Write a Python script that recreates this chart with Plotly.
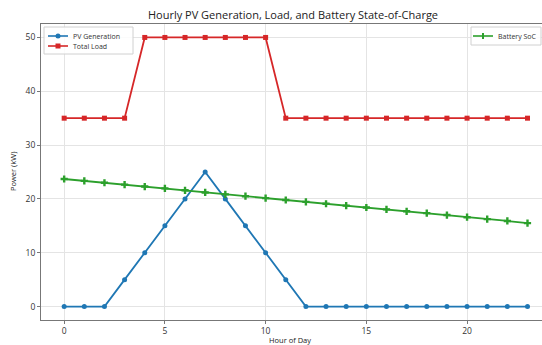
import plotly.graph_objects as go

hours = list(range(24))
pv_generation = [0, 0, 0, 5, 10, 15, 20, 25, 20, 15, 10, 5, 0, 0, 0, 0, 0, 0, 0, 0, 0, 0, 0, 0]
total_load = [35, 35, 35, 35, 50, 50, 50, 50, 50, 50, 50, 35, 35, 35, 35, 35, 35, 35, 35, 35, 35, 35, 35, 35]
battery_soc = [23.7, 23.35, 23.0, 22.65, 22.3, 21.95, 21.6, 21.2, 20.85, 20.5, 20.15, 19.8, 19.45,
               19.1, 18.75, 18.4, 18.05, 17.7, 17.35, 17.0, 16.6, 16.25, 15.9, 15.5]

FONT = "Open Sans"
W, H = 542, 345
ML, MR, MT, MB = 41, 0, 24, 25
PW, PH = W - ML - MR, H - MT - MB

BLUE, RED, GREEN = "#1f77b4", "#d62728", "#2ca02c"


def px(x):
    return (x - ML) / PW


def py(y):
    return 1 - (y - MT) / PH


fig = go.Figure()
fig.add_trace(go.Scatter(x=hours, y=pv_generation, mode="lines+markers", name="PV Generation",
                         line=dict(color=BLUE, width=1.8),
                         marker=dict(symbol="circle", size=5, color=BLUE)))
fig.add_trace(go.Scatter(x=hours, y=total_load, mode="lines+markers", name="Total Load",
                         line=dict(color=RED, width=1.8),
                         marker=dict(symbol="square", size=5, color=RED)))
fig.add_trace(go.Scatter(x=hours, y=battery_soc, mode="lines+markers", name="Battery SoC",
                         line=dict(color=GREEN, width=1.8),
                         marker=dict(symbol="cross", size=6, color=GREEN)))

axis_common = dict(showline=True, linecolor="#777", linewidth=1, mirror=True,
                   showgrid=True, gridcolor="#e4e4e4", gridwidth=1, zeroline=False,
                   ticks="outside", ticklen=3, tickcolor="#777", automargin=False,
                   tickfont=dict(family=FONT, size=8.5, color="#333"))

shapes = []
annotations = []


def legend_box(x0, y0, x1, y1):
    shapes.append(dict(type="rect", xref="paper", yref="paper", x0=px(x0), x1=px(x1),
                       y0=py(y1), y1=py(y0), line=dict(color="#d0d0d0", width=1),
                       fillcolor="rgba(255,255,255,0.85)", layer="above"))


def legend_item(xl, xr, y, color, symbol, text):
    shapes.append(dict(type="line", xref="paper", yref="paper", x0=px(xl), x1=px(xr),
                       y0=py(y), y1=py(y), line=dict(color=color, width=1.6), layer="above"))
    xm = (xl + xr) / 2
    if symbol == "circle":
        shapes.append(dict(type="circle", xref="paper", yref="paper", x0=px(xm - 2.5), x1=px(xm + 2.5),
                           y0=py(y + 2.5), y1=py(y - 2.5), fillcolor=color, line=dict(width=0),
                           layer="above"))
    elif symbol == "square":
        shapes.append(dict(type="rect", xref="paper", yref="paper", x0=px(xm - 2.5), x1=px(xm + 2.5),
                           y0=py(y + 2.5), y1=py(y - 2.5), fillcolor=color, line=dict(width=0),
                           layer="above"))
    else:
        shapes.append(dict(type="line", xref="paper", yref="paper", x0=px(xm), x1=px(xm),
                           y0=py(y + 3), y1=py(y - 3), line=dict(color=color, width=2),
                           layer="above"))
    annotations.append(dict(xref="paper", yref="paper", x=px(xr + 3), y=py(y), xanchor="left",
                            yanchor="middle", text=text, showarrow=False,
                            font=dict(family=FONT, size=7, color="#333")))


legend_box(44, 27, 133, 54)
legend_item(48, 68, 36, BLUE, "circle", "PV Generation")
legend_item(48, 68, 46, RED, "square", "Total Load")
legend_box(471, 27, 541, 45)
legend_item(473, 493, 36, GREEN, "cross", "Battery SoC")

annotations.append(dict(xref="paper", yref="paper", x=px(290), y=py(339.5), xanchor="center",
                        yanchor="middle", text="Hour of Day", showarrow=False,
                        font=dict(family=FONT, size=7.5, color="#222")))
annotations.append(dict(xref="paper", yref="paper", x=px(13), y=py(172), xanchor="center",
                        yanchor="middle", text="Power (kW)", showarrow=False, textangle=-90,
                        font=dict(family=FONT, size=7.5, color="#222")))

fig.update_layout(
    width=W, height=H,
    margin=dict(l=ML, r=MR, t=MT, b=MB),
    paper_bgcolor="white", plot_bgcolor="white",
    showlegend=False,
    title=dict(text="Hourly PV Generation, Load, and Battery State-of-Charge",
               x=px(293), xanchor="center", xref="paper", y=1 - 15 / H, yanchor="middle",
               font=dict(family=FONT, size=11, color="#222")),
    xaxis=dict(range=[-1.15, 23.72], tickvals=[0, 5, 10, 15, 20], **axis_common),
    yaxis=dict(range=[-2.5, 52.5], tickvals=[0, 10, 20, 30, 40, 50], **axis_common),
    shapes=shapes,
    annotations=annotations,
)

fig.write_html("out.html", config={"displayModeBar": False},
               post_script="document.body.style.margin='0px';document.body.style.overflow='hidden';")
